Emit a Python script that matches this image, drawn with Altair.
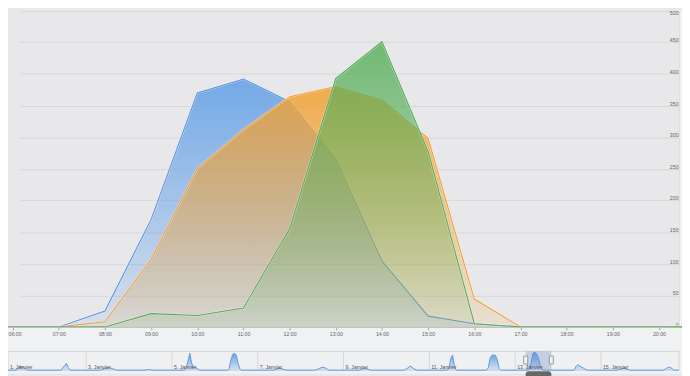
import altair as alt
import pandas as pd

# ---------------- data ----------------
DAY = "2024-01-13"
hours = ["05:00", "06:00", "07:00", "08:00", "09:00", "10:00", "11:00", "12:00",
         "13:00", "14:00", "15:00", "16:00", "17:00", "18:00", "19:00", "20:00", "21:00"]
blue = [0, 0, 0, 25, 170, 370, 392, 356, 265, 104, 17, 5, 0, 0, 0, 0, 0]
orange = [0, 0, 0, 8, 107, 250, 312, 364, 380, 359, 298, 44, 0, 0, 0, 0, 0]
green = [0, 0, 0, 0, 21, 18, 30, 155, 393, 451, 277, 5, 0, 0, 0, 0, 0]

x_ticks = ["06:00", "07:00", "08:00", "09:00", "10:00", "11:00", "12:00", "13:00",
           "14:00", "15:00", "16:00", "17:00", "18:00", "19:00", "20:00"]
y_ticks = [0, 50, 100, 150, 200, 250, 300, 350, 400, 450, 500]

# navigator (first series over the whole month view), read from the strip
nav_times = [
    "01 00:00", "01 09:00", "01 11:00", "01 13:00", "01 15:00",
    "02 10:00", "02 12:00", "02 13:00", "02 14:00", "02 15:00",
    "03 08:00", "03 11:00", "03 13:00", "03 15:00", "03 17:00",
    "04 09:00", "04 11:00", "04 13:00",
    "05 07:00", "05 08:00", "05 09:00", "05 10:00", "05 11:00", "05 12:00", "05 13:00", "05 14:00", "05 15:00", "05 16:00",
    "06 07:00", "06 08:00", "06 09:00", "06 10:00", "06 11:00", "06 12:00", "06 13:00", "06 14:00", "06 15:00",
    "07 09:00", "07 11:00", "07 12:00", "07 14:00", "07 16:00",
    "08 08:00", "08 10:00", "08 12:00", "08 13:00", "08 15:00", "08 16:00",
    "09 09:00", "09 11:00", "09 13:00", "09 15:00",
    "10 10:00", "10 12:00", "10 13:00", "10 14:00", "10 15:00", "10 17:00",
    "11 10:00", "11 11:00", "11 12:00", "11 13:00", "11 14:00", "11 15:00",
    "12 08:00", "12 09:00", "12 10:00", "12 11:00", "12 12:00", "12 13:00", "12 14:00", "12 15:00", "12 16:00",
    "14 09:00", "14 10:00", "14 11:00", "14 12:00", "14 13:00", "14 14:00", "14 15:00", "14 16:00", "14 17:00",
    "15 09:00", "15 11:00", "15 13:00", "15 14:00", "15 16:00",
    "16 11:00", "16 13:00", "16 14:00", "16 15:00", "16 17:00", "16 23:00",
]
nav_values = [
    0, 0, 90, 55, 0,
    0, 100, 150, 60, 0,
    0, 40, 55, 30, 0,
    0, 15, 0,
    0, 50, 190, 370, 160, 70, 60, 40, 10, 0,
    0, 30, 220, 345, 368, 330, 150, 25, 0,
    0, 30, 40, 25, 0,
    0, 30, 60, 65, 20, 0,
    0, 35, 30, 0,
    0, 50, 85, 80, 40, 0,
    0, 60, 250, 330, 100, 0,
    0, 60, 260, 325, 330, 320, 230, 40, 0,
    0, 80, 120, 95, 70, 50, 25, 5, 0,
    0, 25, 40, 30, 0,
    0, 50, 65, 55, 0, 0,
]
nav_day_labels = ["1. Janvier", "3. Janvier", "5. Janvier", "7. Janvier",
                  "9. Janvier", "11. Janvier", "13. Janvier", "15. Janvier"]
nav_label_days = [1, 3, 5, 7, 9, 11, 13, 15]

# ---------------- tables ----------------
main_df = pd.DataFrame({
    "time": [f"{DAY}T{h}" for h in hours],
    "blue": blue, "orange": orange, "green": green,
})
nav_df = pd.DataFrame({
    "t": [f"2024-01-{s[:2]}T{s[3:]}" for s in nav_times] + [f"{DAY}T{h}" for h in hours],
    "v": nav_values + blue,
}).sort_values("t").reset_index(drop=True)
# separator lines at the labelled days (the first one lies off the left edge)
sep_df = pd.DataFrame({"t": [f"2024-01-{d:02d}T00:00" for d in nav_label_days if d > 1]})


def DT(day, h, m=0, s=0):
    return alt.DateTime(year=2024, month=1, date=day, hours=h, minutes=m, seconds=s)


def rgba(hexc, a):
    hexc = hexc.lstrip("#")
    r, g, b = int(hexc[0:2], 16), int(hexc[2:4], 16), int(hexc[4:6], 16)
    return f"rgba({r},{g},{b},{a})"


def grad(hexc, top_a, bot_a):
    return alt.LinearGradient(
        gradient="linear", x1=0, y1=0, x2=0, y2=1,
        stops=[alt.GradientStop(color=rgba(hexc, top_a), offset=0),
               alt.GradientStop(color=rgba(hexc, bot_a), offset=1)])


FONT = "Liberation Sans"
LABEL_SIZE = 5.3
PLOT_BG = "#e8e8eb"
OUTER_BG = "#f0f1f3"

main_start = DT(13, 5, 54)
main_end = DT(13, 20, 14, 30)

x_scale = alt.Scale(domain=[main_start, main_end], range=[0, 670], nice=False)
y_scale = alt.Scale(domain=[0, 500], range=[320.5, 0.5], nice=False, zero=False)

first_hour = int(x_ticks[0][:2])
x_axis = alt.Axis(
    orient="bottom", offset=-47.5, values=[DT(13, int(h[:2])) for h in x_ticks],
    format="%H:%M", grid=False, domainColor="#bdbdbd", tickColor="#a8a8a8",
    tickSize=3, labelPadding=2, labelFontSize=LABEL_SIZE, labelColor="#666666",
    labelOffset={"condition": {"test": f"hours(datum.value) == {first_hour}", "value": 2},
                 "value": 0},
    labelFont=FONT, labelFlush=False, labelOverlap=False, title=None, zindex=1)
y_axis = alt.Axis(
    orient="right", offset=-3, values=y_ticks, grid=True, gridColor="#d7d7da",
    domain=True, domainColor="#cfcfcf", ticks=False, tickSize=0,
    labelAlign="right",
    labelBaseline={"condition": {"test": f"datum.value == {y_ticks[-1]}", "value": "top"},
                   "value": "alphabetic"},
    labelPadding=-1, labelOffset=-0.5, labelFontSize=LABEL_SIZE, labelColor="#666666",
    labelFont=FONT, title=None)

X = alt.X("time:T", scale=x_scale, axis=x_axis)
one = pd.DataFrame({"k": [0]})

# lighter band under the plot area (decoration)
outer_band = alt.Chart(one).mark_rect(color=OUTER_BG).encode(
    x=alt.value(0), x2=alt.value(682), y=alt.value(321), y2=alt.value(368))
outer_right = alt.Chart(one).mark_rect(color=OUTER_BG).encode(
    x=alt.value(679.5), x2=alt.value(682), y=alt.value(0), y2=alt.value(321))


def series(field, base, line_color, top_a, bot_a):
    Y = alt.Y(f"{field}:Q", scale=y_scale, axis=y_axis)
    area = alt.Chart(main_df).mark_area(color=grad(base, top_a, bot_a)).encode(x=X, y=Y)
    halo = alt.Chart(main_df).mark_line(color="#ffffff", strokeWidth=2.2, opacity=0.45).encode(x=X, y=Y)
    line = alt.Chart(main_df).mark_line(color=line_color, strokeWidth=1.1).encode(x=X, y=Y)
    return [area, halo, line]


main_layers = [outer_band, outer_right]
main_layers += series("blue", "#5f9ee6", "#5b95dc", 0.85, 0.12)
main_layers += series("orange", "#f2a131", "#efa03a", 0.85, 0.12)
main_layers += series("green", "#56ae58", "#5aa95b", 0.82, 0.10)
main = alt.layer(*main_layers)

# ---------------- navigator ----------------
nav_start = DT(1, 4, 19)
nav_end = DT(16, 19, 40)
nx_scale = alt.Scale(domain=[nav_start, nav_end], range=[0, 679], nice=False, clamp=True)
ny_scale = alt.Scale(domain=[0, 410], range=[364.3, 345.3], nice=False, zero=False)

label_js = "[" + ",".join("'" + s + "'" for s in nav_day_labels) + "]"
nx_axis = alt.Axis(
    orient="bottom", offset=-3.7, values=[DT(d, 0) for d in nav_label_days],
    labelExpr=label_js + "[(date(datum.value)-1)/2]",
    grid=False, domain=False, ticks=False, tickSize=0,
    labelAlign="left", labelBaseline="alphabetic", labelPadding=-2.2,
    labelOffset=1.5, labelFontSize=LABEL_SIZE, labelColor="#555555",
    labelFont=FONT, labelFlush=False, labelOverlap=False, labelBound=False,
    title=None, zindex=1)

NX = alt.X("t:T", scale=nx_scale, axis=nx_axis)
NY = alt.Y("v:Q", scale=ny_scale, axis=None)

nav_bg = alt.Chart(one).mark_rect(color="#eef0f2", stroke="#d3d3d6", strokeWidth=1).encode(
    x=alt.X(datum=nav_start, type="temporal", scale=nx_scale, axis=nx_axis),
    x2=alt.X2(datum=nav_end),
    y=alt.Y(datum=0, type="quantitative", scale=ny_scale, axis=None),
    y2=alt.Y2(datum=410),
)
separators = alt.Chart(sep_df).mark_rule(color="#d6d6d8", strokeWidth=1).encode(
    x=alt.X("t:T"), y=alt.value(345.3), y2=alt.value(364.3))
nav_area = alt.Chart(nav_df).mark_area(color=grad("#4f8fe0", 0.85, 0.15)).encode(x=NX, y=NY)
nav_line = alt.Chart(nav_df).mark_line(color="#5c9ae3", strokeWidth=1).encode(x=NX, y=NY)
mask = alt.Chart(one).mark_rect(color="rgba(102,133,194,0.3)").encode(
    x=alt.X(datum=main_start, type="temporal"), x2=alt.X2(datum=main_end),
    y=alt.Y(datum=0, type="quantitative"), y2=alt.Y2(datum=410),
)
handles = alt.Chart(pd.DataFrame({"t": [f"{DAY}T05:54", f"{DAY}T20:14:30"]})).mark_point(
    shape="M-0.5,-1L0.5,-1L0.5,1L-0.5,1Z", size=64, filled=True, fill="#f2f2f2",
    stroke="#999999", strokeWidth=1, opacity=1).encode(
    x=alt.X("t:T"), y=alt.Y(datum=222, type="quantitative"))
thumb = alt.Chart(one).mark_rect(color="#666666", cornerRadius=3).encode(
    x=alt.X(datum=main_start, type="temporal"), x2=alt.X2(datum=main_end),
    y=alt.value(365.5), y2=alt.value(373),
)
nav = alt.layer(nav_bg, separators, nav_area, nav_line, mask, handles, thumb)

chart = alt.layer(main, nav).resolve_scale(x="independent", y="independent").properties(
    width=682, height=368, padding=0,
    autosize=alt.AutoSizeParams(type="none"), background=PLOT_BG,
).configure_view(strokeWidth=0)

chart.save("out.html", embed_options={"renderer": "svg", "actions": False})
